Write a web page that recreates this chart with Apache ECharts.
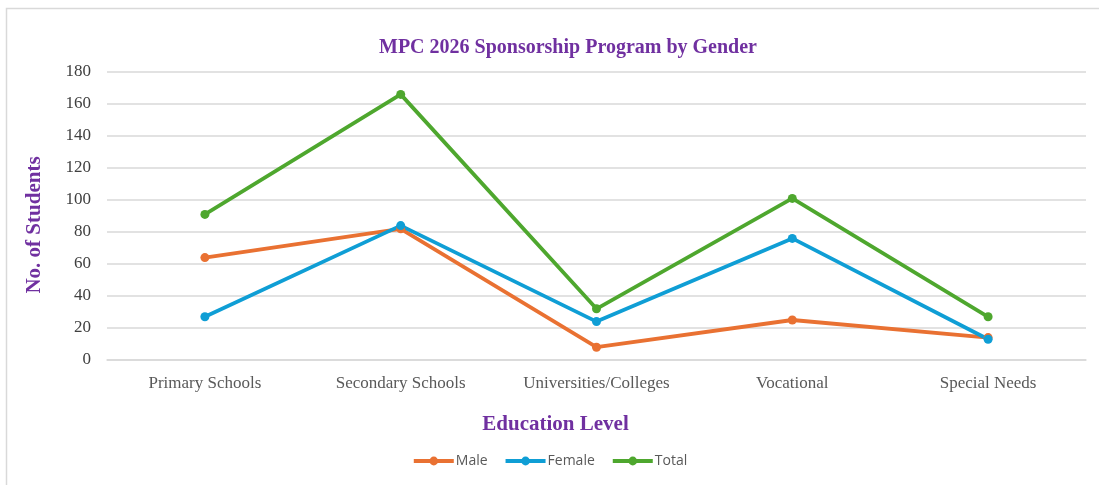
<!DOCTYPE html>
<html>
<head>
<meta charset="utf-8">
<script src="https://cdn.jsdelivr.net/npm/echarts@6/dist/echarts.min.js"></script>
<style>
  html, body { margin: 0; padding: 0; background: #fff; }
  #chart { width: 1099px; height: 485px; }
</style>
</head>
<body>
<div id="chart"></div>
<script>
// data
var levels = ['Primary Schools', 'Secondary Schools', 'Universities/Colleges', 'Vocational', 'Special Needs'];
var male = [64, 82, 8, 25, 14];
var female = [27, 84, 24, 76, 13];
var total = [91, 166, 32, 101, 27];

var serif = '"Liberation Serif", "DejaVu Serif", serif';
var purple = '#7030A0';

var chart = echarts.init(document.getElementById('chart'));

function lineSeries(name, data, color) {
  return {
    name: name,
    type: 'line',
    data: data,
    symbol: 'circle',
    symbolSize: 9,
    lineStyle: { width: 3.8, color: color },
    itemStyle: { color: color },
    emphasis: { disabled: true }
  };
}

var option = {
  animation: false,
  graphic: [{
    type: 'rect',
    shape: { x: 6.5, y: 8.5, width: 1200, height: 600 },
    style: { fill: 'none', stroke: '#d9d9d9', lineWidth: 1.5 },
    silent: true
  }],
  title: {
    text: 'MPC 2026 Sponsorship Program by Gender',
    left: 563,
    top: 33,
    textAlign: 'center',
    textStyle: { fontFamily: serif, fontSize: 20, fontWeight: 'bold', color: purple }
  },
  legend: {
    bottom: 12,
    left: 'center',
    itemWidth: 40,
    itemHeight: 11,
    itemGap: 16,
    lineStyle: { width: 4 },
    textStyle: { fontFamily: '"Open Sans", "Noto Sans", sans-serif', fontSize: 14, color: '#595959', padding: [0, 0, 0, -3] },
    data: ['Male', 'Female', 'Total']
  },
  grid: { left: 107, right: 13, top: 72, bottom: 125 },
  xAxis: {
    type: 'category',
    data: levels,
    boundaryGap: true,
    name: 'Education Level',
    nameLocation: 'middle',
    nameGap: 54,
    nameTextStyle: { fontFamily: serif, fontSize: 21, fontWeight: 'bold', color: purple, padding: [0, 82, 0, 0] },
    axisLine: { lineStyle: { color: '#d9d9d9', width: 1.5 } },
    axisTick: { show: false },
    axisLabel: { fontFamily: serif, fontSize: 17, color: '#595959', margin: 15 }
  },
  yAxis: {
    type: 'value',
    min: 0,
    max: 180,
    interval: 20,
    name: 'No. of Students',
    nameLocation: 'middle',
    nameGap: 62,
    nameTextStyle: { fontFamily: serif, fontSize: 21, fontWeight: 'bold', color: purple, padding: [0, 18, 0, 0] },
    axisLine: { show: false },
    axisTick: { show: false },
    axisLabel: { fontFamily: serif, fontSize: 17, color: '#404040', margin: 16 },
    splitLine: { lineStyle: { color: '#d9d9d9', width: 1.5 } }
  },
  series: [
    lineSeries('Male', male, '#E97132'),
    lineSeries('Female', female, '#0F9ED5'),
    lineSeries('Total', total, '#4EA72E')
  ]
};

chart.setOption(option);
</script>
</body>
</html>
